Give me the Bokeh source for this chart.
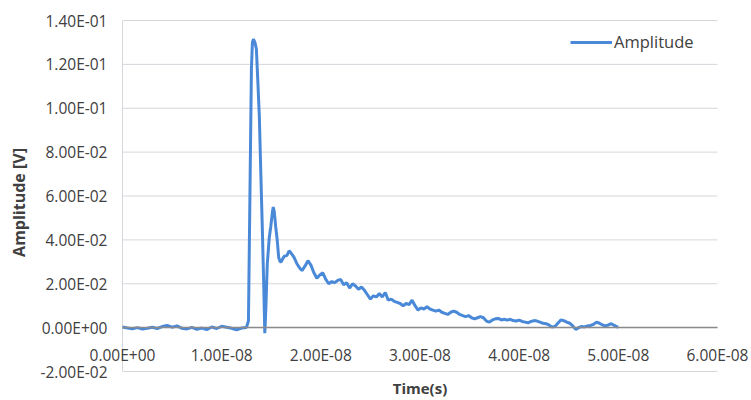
from bokeh.plotting import figure
from bokeh.models import FixedTicker, Label, Range1d, CustomJSTickFormatter
from bokeh.embed import file_html
from bokeh.resources import INLINE

# ---- data (time in ns, amplitude in mV) ----
time_ns = [0.0, 0.5, 1.0, 1.5, 2.0, 2.5, 3.0, 3.5, 4.0, 4.5, 5.0, 5.5, 6.0, 6.5, 7.0, 7.5,
           8.0, 8.5, 9.0, 9.5, 10.0, 10.5, 11.0, 11.5, 12.0, 12.5,
           12.7, 12.85, 13.0, 13.1, 13.2, 13.35, 13.5, 13.65, 13.8, 13.95, 14.1, 14.25,
           14.35, 14.45, 14.6, 14.8, 14.95, 15.1, 15.2, 15.3, 15.45, 15.6, 15.75, 15.9,
           16.0, 16.3, 16.6, 16.8, 17.0, 17.3, 17.6, 17.9, 18.1, 18.4, 18.7, 19.0, 19.3,
           19.6, 19.9, 20.2, 20.5, 20.8, 21.1, 21.4, 21.7, 22.0, 22.3, 22.6, 22.9, 23.2,
           23.5, 23.8, 24.1, 24.4, 24.7, 25.0, 25.3, 25.6, 25.9, 26.2, 26.5, 26.8, 27.1,
           27.4, 27.7, 28.0, 28.3, 28.6, 28.9, 29.2, 29.5, 29.8, 30.1, 30.4, 30.7, 31.0,
           31.3, 31.6, 31.9, 32.2, 32.5, 32.8, 33.1, 33.4, 33.7, 34.0, 34.3, 34.6, 34.9,
           35.2, 35.5, 35.8, 36.1, 36.4, 36.7, 37.0, 37.3, 37.6, 37.9, 38.2, 38.5, 38.8,
           39.1, 39.4, 39.7, 40.0, 40.3, 40.6, 40.9, 41.2, 41.5, 41.8, 42.1, 42.4, 42.7,
           43.0, 43.3, 43.6, 43.9, 44.2, 44.5, 44.8, 45.1, 45.4, 45.7, 46.0, 46.3, 46.6,
           46.9, 47.2, 47.5, 47.8, 48.1, 48.4, 48.7, 49.0, 49.3, 49.6, 49.9, 50.0]
amp_mv = [0.3, -0.2, -0.5, 0.0, -0.6, -0.3, 0.2, -0.4, 0.5, 1.0, 0.2, 0.8, -0.3, -0.6, 0.1, -0.8,
          -0.2, -0.9, 0.3, -0.4, 0.6, 0.2, -0.3, -1.0, -0.2, 0.1,
          3.0, 60.0, 118.0, 130.0, 131.5, 130.0, 127.0, 112.0, 96.0, 70.0, 45.0, 18.0,
          -2.5, 8.0, 29.0, 41.0, 46.0, 52.0, 55.0, 53.0, 46.0, 40.0, 32.0, 30.0,
          30.0, 32.5, 33.0, 35.0, 34.0, 32.0, 29.0, 27.0, 26.0, 28.0, 30.5, 28.5, 25.0,
          22.5, 24.0, 25.0, 22.0, 20.0, 21.0, 20.5, 21.5, 22.0, 19.5, 20.5, 18.0, 20.0,
          19.0, 17.5, 18.5, 17.0, 15.0, 13.0, 14.5, 14.0, 15.5, 14.0, 16.0, 12.5, 13.0,
          12.0, 11.5, 11.0, 10.0, 11.0, 10.5, 12.5, 10.0, 8.0, 9.0, 8.5, 9.5, 8.5,
          8.0, 7.5, 8.0, 7.0, 6.5, 6.0, 7.0, 7.5, 7.0, 6.0, 5.5, 5.0, 5.5,
          4.5, 4.0, 4.5, 5.0, 4.5, 3.0, 2.5, 3.5, 4.0, 4.2, 3.5, 3.8, 3.4,
          3.8, 3.2, 3.0, 3.4, 2.8, 2.5, 2.2, 2.8, 3.2, 3.0, 2.5, 2.0, 1.8,
          1.2, 0.3, 0.5, 2.0, 3.5, 3.2, 2.5, 2.0, 0.8, -0.8, 0.0, 0.5, 0.3,
          0.8, 1.0, 1.5, 2.5, 2.0, 1.2, 0.8, 1.2, 1.8, 1.0, 0.3, 0.2]

y_ticks = [-0.02, 0.0, 0.02, 0.04, 0.06, 0.08, 0.10, 0.12, 0.14]
y_labels = ["-2.00E-02", "0.00E+00", "2.00E-02", "4.00E-02", "6.00E-02",
            "8.00E-02", "1.00E-01", "1.20E-01", "1.40E-01"]
x_ticks = [0.0, 1e-8, 2e-8, 3e-8, 4e-8, 5e-8, 6e-8]
x_labels = ["0.00E+00", "1.00E-08", "2.00E-08", "3.00E-08", "4.00E-08",
            "5.00E-08", "6.00E-08"]

t = [v * 1e-9 for v in time_ns]
amp = [v * 1e-3 for v in amp_mv]

# ---- layout: plot area in canvas pixels ----
W, H = 751, 400
PL, PR, PT, PB = 122, 717, 20, 371
x0, x1 = x_ticks[0], x_ticks[-1]
y0, y1 = y_ticks[0], y_ticks[-1]
kx = (x1 - x0) / (PR - PL)
ky = (y1 - y0) / (PB - PT)
x_range = Range1d(x0 - PL * kx, x1 + (W - PR) * kx)
y_range = Range1d(y0 - (H - PB) * ky, y1 + PT * ky)

FONT = "Open Sans"
TXT = "#404040"
GRID = "#d4d7dc"

LOOKUP = """
let best = 0, bd = Infinity;
for (let i = 0; i < tv.length; i++) {
  const d = Math.abs(tv[i] - tick);
  if (d < bd) { bd = d; best = i; }
}
return tl[best];
"""

p = figure(width=W, height=H, output_backend="svg", toolbar_location=None,
           x_range=x_range, y_range=y_range,
           min_border=0, min_border_left=0, min_border_right=0,
           min_border_top=0, min_border_bottom=0)
p.outline_line_color = None
p.background_fill_color = "white"
p.xgrid.visible = False
p.ygrid.visible = False

# horizontal gridlines limited to the plot area, and the left border
p.segment(x0=[x0] * len(y_ticks), x1=[x1] * len(y_ticks), y0=y_ticks, y1=y_ticks,
          line_color=GRID, line_width=1)
p.segment(x0=[x0], x1=[x0], y0=[y0], y1=[y1], line_color=GRID, line_width=1)

# y axis crossing at x = 0 (title centred a little lower, as in the original)
ya = p.yaxis[0]
ya.fixed_location = x0
ya.bounds = (y0 - 13 * ky, y1)
ya.ticker = FixedTicker(ticks=y_ticks)
ya.formatter = CustomJSTickFormatter(args=dict(tv=y_ticks, tl=y_labels), code=LOOKUP)
ya.axis_line_color = None
ya.major_tick_line_color = None
ya.minor_tick_line_color = None
ya.major_tick_out = 0
ya.major_tick_in = 0
ya.major_label_standoff = 15
ya.major_label_text_font = FONT
ya.major_label_text_font_size = "15.5px"
ya.major_label_text_color = TXT
ya.axis_label = "Amplitude [V]"
ya.axis_label_text_font = FONT
ya.axis_label_text_font_size = "16px"
ya.axis_label_text_font_style = "bold"
ya.axis_label_text_color = TXT
ya.axis_label_standoff = 8

# x axis crossing at y = 0 (Excel style)
xa = p.xaxis[0]
xa.fixed_location = 0
xa.bounds = (x0, x1)
xa.ticker = FixedTicker(ticks=x_ticks)
xa.formatter = CustomJSTickFormatter(args=dict(tv=x_ticks, tl=x_labels), code=LOOKUP)
xa.axis_line_color = "#8a8a8a"
xa.axis_line_width = 1.5
xa.major_tick_line_color = None
xa.minor_tick_line_color = None
xa.major_tick_out = 0
xa.major_tick_in = 0
xa.major_label_standoff = 16
xa.major_label_text_font = FONT
xa.major_label_text_font_size = "15.5px"
xa.major_label_text_color = TXT

# x title under the plot area
p.add_layout(Label(x=(x0 + x1) / 2, y=y0, y_offset=-16, text="Time(s)",
                   text_align="center", text_baseline="middle",
                   text_font=FONT, text_font_size="15px", text_font_style="bold",
                   text_color=TXT))

p.line(t, amp, line_color="#4a89d8", line_width=3, legend_label="Amplitude")

lg = p.legend[0]
lg.location = (570, 347)
lg.padding = 0
lg.margin = 0
lg.border_line_color = None
lg.background_fill_alpha = 0
lg.glyph_width = 42
lg.label_standoff = 2
lg.label_text_font = FONT
lg.label_text_font_size = "16.5px"
lg.label_text_color = TXT

open("out.html", "w").write(file_html(p, INLINE))
